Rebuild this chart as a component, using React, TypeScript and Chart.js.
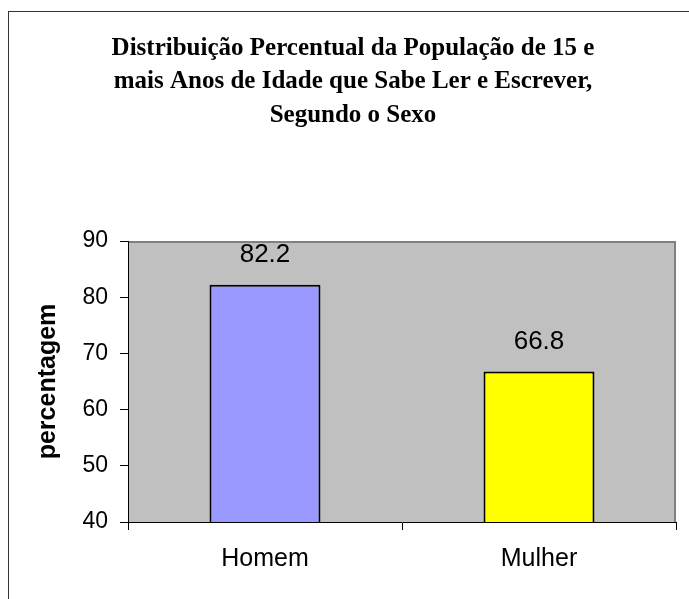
import React, { useEffect, useRef } from 'react';
import { Chart, registerables } from 'chart.js';

Chart.register(...registerables);

const categories = ['Homem', 'Mulher'];
const values = [82.2, 66.8];
const barColors = ['#9999FF', '#FFFF00'];
const titleLines = [
  'Distribuição Percentual da População de 15 e',
  'mais Anos de Idade que Sabe Ler e Escrever,',
  'Segundo o Sexo',
];
const yTitle = 'percentagem';
const yMin = 40;
const yMax = 90;
const yStep = 10;

const W = 688;
const H = 587;
const SANS = '"Liberation Sans", Arial, sans-serif';
const SERIF = '"Liberation Serif", "Times New Roman", serif';

const chartPlugin = {
  id: 'customDecor',
  beforeDraw(chart: any) {
    const { ctx, chartArea } = chart;
    ctx.save();
    ctx.fillStyle = '#C0C0C0';
    ctx.fillRect(chartArea.left, chartArea.top, chartArea.right - chartArea.left, chartArea.bottom - chartArea.top);
    ctx.strokeStyle = '#808080';
    ctx.lineWidth = 2;
    ctx.beginPath();
    ctx.moveTo(chartArea.left, chartArea.top + 1);
    ctx.lineTo(chartArea.right - 1, chartArea.top + 1);
    ctx.lineTo(chartArea.right - 1, chartArea.bottom);
    ctx.stroke();
    ctx.restore();
  },
  afterDraw(chart: any) {
    const { ctx } = chart;
    ctx.save();
    ctx.fillStyle = '#000';
    ctx.textAlign = 'center';
    ctx.textBaseline = 'alphabetic';
    ctx.font = 'bold 25px ' + SERIF;
    const baselines = [43, 76, 110];
    titleLines.forEach((t, i) => ctx.fillText(t, 344, baselines[i]));
    ctx.font = '26px ' + SANS;
    ctx.textBaseline = 'middle';
    const meta = chart.getDatasetMeta(0);
    meta.data.forEach((bar: any, i: number) => {
      ctx.fillText(String(values[i]), bar.x, bar.y - 30);
    });
    ctx.restore();
  },
};

export default function App() {
  const ref = useRef<HTMLCanvasElement>(null);
  useEffect(() => {
    if (!ref.current) return;
    const chart = new Chart(ref.current, {
      type: 'bar',
      data: {
        labels: categories,
        datasets: [
          {
            data: values,
            backgroundColor: barColors,
            borderColor: '#000',
            borderWidth: 2,
            categoryPercentage: 1,
            barPercentage: 0.405,
          },
        ],
      },
      options: {
        responsive: false,
        animation: false,
        devicePixelRatio: 1,
        layout: { padding: { top: 229, right: 21, bottom: 0, left: 0 } },
        plugins: {
          legend: { display: false },
          title: { display: false },
          tooltip: { enabled: false },
        },
        scales: {
          x: {
            ticks: { font: { family: SANS, size: 25 }, color: '#000', padding: 14 },
            grid: { drawOnChartArea: false, drawTicks: true, tickLength: 8, color: '#000', offset: true },
            border: { color: '#000', width: 1 },
            afterFit: (s: any) => {
              s.height = 77;
            },
          },
          y: {
            min: yMin,
            max: yMax,
            ticks: { stepSize: yStep, font: { family: SANS, size: 23 }, color: '#000', padding: 12 },
            grid: { drawOnChartArea: false, drawTicks: true, tickLength: 8, color: '#000' },
            border: { color: '#000', width: 1 },
            title: {
              display: true,
              text: yTitle,
              color: '#000',
              font: { family: SANS, size: 25, weight: 'bold' },
              padding: { top: 24, bottom: 0 },
            },
            afterFit: (s: any) => {
              s.width = 119;
            },
          },
        },
      },
      plugins: [chartPlugin],
    } as any);
    return () => chart.destroy();
  }, []);

  return (
    <div style={{ position: 'absolute', left: 0, top: 0, width: 689, height: 599, overflow: 'hidden', background: '#fff' }}>
      <div
        style={{
          position: 'absolute',
          left: 8,
          top: 11,
          width: 689,
          height: 600,
          borderLeft: '1px solid #333',
          borderTop: '1px solid #333',
          boxSizing: 'border-box',
        }}
      >
        <canvas ref={ref} width={W} height={H} style={{ display: 'block', width: W, height: H }} />
      </div>
    </div>
  );
}
